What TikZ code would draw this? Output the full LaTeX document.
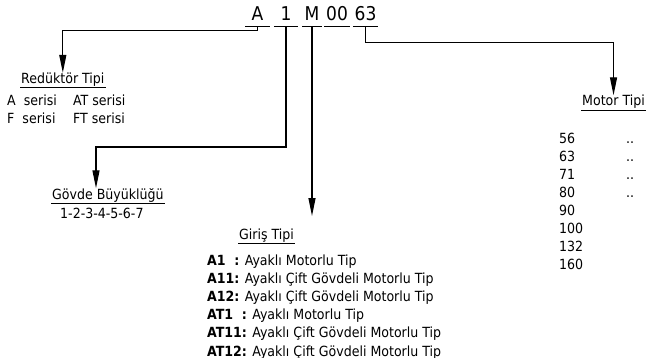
\documentclass[tikz,border=0pt]{standalone}
\usepackage{fontspec}
\setmainfont{DejaVu Sans Condensed}
\usetikzlibrary{arrows.meta,positioning}

\begin{document}
\begin{tikzpicture}[x=1pt,y=-1pt,
  kod/.style={font=\fontsize{19}{19}\selectfont,inner sep=0pt,text depth=5pt,anchor=base,
    append after command={(\tikzlastnode.south west) edge[line width=1pt] (\tikzlastnode.south east)}},
  baslik/.style={font=\fontsize{14}{16}\selectfont,inner xsep=1pt,inner ysep=0pt,text height=10.5pt,text depth=4pt,anchor=base west,
    append after command={(\tikzlastnode.south west) edge[line width=0.8pt] (\tikzlastnode.south east)}},
  metin/.style={font=\fontsize{14}{16}\selectfont,inner sep=0pt,text height=10.5pt,text depth=3.5pt},
  ok/.style={line width=1.2pt,-{Triangle[length=18pt,width=7pt]}},
 ]
\useasboundingbox (0,0) rectangle (652,358);

% kod
\node[kod,minimum width=24pt] (kA) at (257.5,21) {A};
\node[kod,minimum width=24pt] (k1) at (286,21) {1};
\node[kod,minimum width=19pt] (kM) at (312,21) {M};
\node[kod,minimum width=25pt] (k00) at (337,21) {00};
\node[kod,minimum width=25pt] (k63) at (365.5,21) {63};

% Reduktor Tipi
\node[baslik] (reduktor) at (20,83.5) {Redüktör Tipi};
\node[metin,anchor=base west] (seriA) at (7,106) {A\ \ serisi};
\node[metin,anchor=base west] (seriAT) at (73,106) {AT serisi};
\node[metin,below=3pt of seriA.south west,anchor=north west] (seriF) {F\ \ serisi};
\node[metin,below=3pt of seriAT.south west,anchor=north west] (seriFT) {FT serisi};

% Govde Buyuklugu
\node[baslik] (govde) at (51,199) {Gövde Büyüklüğü};
\node[metin,anchor=base west] (boy) at (60,218) {1-2-3-4-5-6-7};

% Giris Tipi
\node[baslik] (giris) at (238,239.5) {Giriş Tipi};
\node[metin,anchor=base west] (g1) at (207,265) {\textbf{A1\ \ :} Ayaklı Motorlu Tip};
\node[metin,below=3.8pt of g1.south west,anchor=north west] (g2) {\textbf{A11:} Ayaklı Çift Gövdeli Motorlu Tip};
\node[metin,below=3.8pt of g2.south west,anchor=north west] (g3) {\textbf{A12:} Ayaklı Çift Gövdeli Motorlu Tip};
\node[metin,below=3.8pt of g3.south west,anchor=north west] (g4) {\textbf{AT1\ \ :} Ayaklı Motorlu Tip};
\node[metin,below=3.8pt of g4.south west,anchor=north west] (g5) {\textbf{AT11:} Ayaklı Çift Gövdeli Motorlu Tip};
\node[metin,below=3.8pt of g5.south west,anchor=north west] (g6) {\textbf{AT12:} Ayaklı Çift Gövdeli Motorlu Tip};

% Motor Tipi
\node[baslik] (motor) at (581,106) {Motor Tipi};
\node[metin,anchor=base west] (m1) at (559,143) {56};
\node[metin,below=3.6pt of m1.south west,anchor=north west] (m2) {63};
\node[metin,below=3.6pt of m2.south west,anchor=north west] (m3) {71};
\node[metin,below=3.6pt of m3.south west,anchor=north west] (m4) {80};
\node[metin,below=3.6pt of m4.south west,anchor=north west] (m5) {90};
\node[metin,below=3.6pt of m5.south west,anchor=north west] (m6) {100};
\node[metin,below=3.6pt of m6.south west,anchor=north west] (m7) {132};
\node[metin,below=3.6pt of m7.south west,anchor=north west] (m8) {160};
\node[metin,anchor=base west] (d1) at (626,143) {..};
\node[metin,below=3.6pt of d1.south west,anchor=north west] (d2) {..};
\node[metin,below=3.6pt of d2.south west,anchor=north west] (d3) {..};
\node[metin,below=3.6pt of d3.south west,anchor=north west] (d4) {..};

% oklar
\coordinate (kose1) at (96,147);
\coordinate (ucM) at (312,216);
\draw[ok] (kA.south) -- ++(0,4) -| (reduktor.north);
\draw[ok] (k1.south) |- (kose1) -- (kose1 |- govde.north);
\draw[ok] (kM.south) -- (ucM);
\draw[ok] (k63.south) -- ++(0,16) -| (motor.north);

\end{tikzpicture}
\end{document}
